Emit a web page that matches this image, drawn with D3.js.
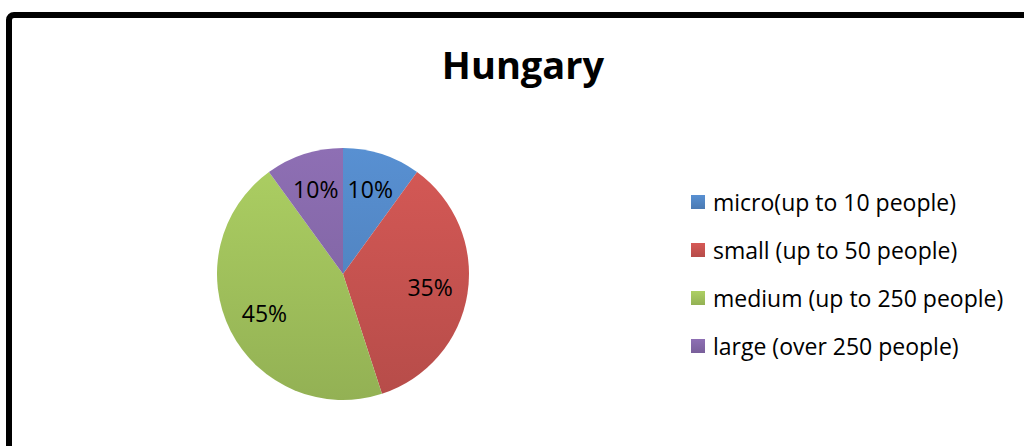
<!DOCTYPE html>
<html>
<head>
<meta charset="utf-8">
<script src="https://cdn.jsdelivr.net/npm/d3@7"></script>
<style>
  body { margin: 0; background: #fff; }
  svg { display: block; font-family: "Open Sans", Lato, sans-serif; }
</style>
</head>
<body>
<div id="chart"></div>
<script>
/* Hungary pie chart */

const categories = ["micro(up to 10 people)", "small (up to 50 people)", "medium (up to 250 people)", "large (over 250 people)"];
const values = [10, 35, 45, 10];
const labels = ["10%", "35%", "45%", "10%"];
const colors = ["#4F81BD", "#C0504D", "#9BBB59", "#8064A2"];

const width = 1024, height = 446;
const cx = 343, cy = 274, radius = 126;

const svg = d3.select("#chart").append("svg")
  .attr("width", width)
  .attr("height", height);

// Gradients, lighter at top like the office style
const defs = svg.append("defs");
colors.forEach((c, i) => {
  const g = defs.append("linearGradient")
    .attr("id", "grad" + i)
    .attr("gradientUnits", "userSpaceOnUse")
    .attr("x1", 0).attr("y1", -radius)
    .attr("x2", 0).attr("y2", radius);
  g.append("stop").attr("offset", "0%").attr("stop-color", d3.color(c).brighter(0.3));
  g.append("stop").attr("offset", "100%").attr("stop-color", d3.color(c).darker(0.15));

  const lg = defs.append("linearGradient")
    .attr("id", "lg" + i)
    .attr("x1", 0).attr("y1", 0).attr("x2", 0).attr("y2", 1);
  lg.append("stop").attr("offset", "0%").attr("stop-color", d3.color(c).brighter(0.3));
  lg.append("stop").attr("offset", "100%").attr("stop-color", d3.color(c).darker(0.15));
});

// Frame
svg.append("rect")
  .attr("x", 9).attr("y", 15)
  .attr("width", 1100).attr("height", 500)
  .attr("rx", 5)
  .attr("fill", "none")
  .attr("stroke", "#000")
  .attr("stroke-width", 6);

// Title
svg.append("text")
  .attr("x", 523)
  .attr("y", 79)
  .attr("text-anchor", "middle")
  .attr("font-size", 38)
  .attr("font-weight", "bold")
  .attr("fill", "#000")
  .text("Hungary");

const pie = d3.pie().sort(null).value(d => d);
const arcs = pie(values);
const arc = d3.arc().innerRadius(0).outerRadius(radius);

const g = svg.append("g").attr("transform", `translate(${cx},${cy})`);

g.selectAll("path")
  .data(arcs)
  .join("path")
  .attr("d", arc)
  .attr("fill", (d, i) => `url(#grad${i})`);

// Data labels
const labelArc = d3.arc().innerRadius(radius * 0.7).outerRadius(radius * 0.7);
g.selectAll("text.lbl")
  .data(arcs)
  .join("text")
  .attr("class", "lbl")
  .attr("x", d => labelArc.centroid(d)[0])
  .attr("y", d => labelArc.centroid(d)[1])
  .attr("dy", "0.35em")
  .attr("text-anchor", "middle")
  .attr("font-size", 23)
  .attr("fill", "#000")
  .text((d, i) => labels[i]);

// Legend
const legend = svg.append("g").attr("transform", "translate(691,202)");
const rows = legend.selectAll("g")
  .data(categories)
  .join("g")
  .attr("transform", (d, i) => `translate(0,${i * 48})`);

rows.append("rect")
  .attr("x", 0).attr("y", -7)
  .attr("width", 14).attr("height", 14)
  .attr("fill", (d, i) => `url(#lg${i})`);

rows.append("text")
  .attr("x", 22)
  .attr("y", 1)
  .attr("dy", "0.35em")
  .attr("font-size", 23)
  .attr("fill", "#000")
  .text(d => d);
</script>
</body>
</html>
